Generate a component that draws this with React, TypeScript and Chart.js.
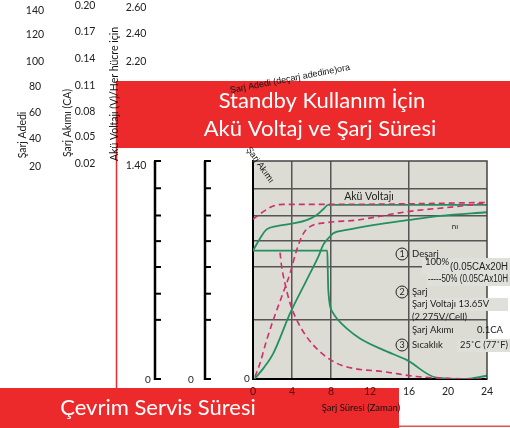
import React, { useEffect, useRef } from 'react';
import { Chart, registerables } from 'chart.js';
Chart.register(...registerables);

// ---- data ----
const timeTicks = [0, 4, 8, 12, 16, 20, 24];
const countTicks = ['140', '120', '100', '80', '60', '40', '20'];
const currentTicks = ['0.20', '0.17', '0.14', '0.11', '0.08', '0.05', '0.02'];
const voltTicks = ['2.60', '2.40', '2.20'];
const voltLowTick = '1.40';

// green solid: battery voltage (100%)
const greenVoltX = [0, 0.72, 1.4, 2.43, 4.13, 5.5, 6.53, 7.2, 7.72, 12, 16, 20, 24];
const greenVoltY = [4.71, 5.16, 5.49, 5.61, 5.71, 5.83, 6.02, 6.23, 6.39, 6.39, 6.39, 6.39, 6.39];
// green solid: charged amount (100%)
const greenChargeX = [0.15, 1.06, 2.08, 3.8, 5.5, 6.7, 7.2, 7.72, 8.24, 9.6, 12.3, 15.8, 19.2, 24];
const greenChargeY = [0.0, 0.39, 0.94, 2.41, 3.63, 4.49, 4.92, 5.16, 5.35, 5.47, 5.65, 5.83, 5.99, 6.12];
// green solid: charge current (100%)
const greenCurrentX = [0, 7.62, 7.67, 7.72, 8.24, 8.58, 9.6, 10.97, 13.4, 15.76, 18.8, 21.6, 24];
const greenCurrentY = [4.71, 4.71, 4.0, 3.27, 2.41, 2.23, 1.86, 1.49, 1.06, 0.7, 0.05, 0.0, 0.12];
// pink dashed: battery voltage (50%)
const pinkVoltX = [0, 1.06, 2.08, 3.1, 7.72, 16, 24];
const pinkVoltY = [5.86, 6.14, 6.35, 6.41, 6.41, 6.43, 6.48];
// pink dashed: charged amount (50%)
const pinkChargeX = [0.2, 0.72, 1.4, 2.08, 2.94, 3.8, 4.48, 5.1, 5.85, 7.56, 10.6, 15.8, 20.9, 24];
const pinkChargeY = [0.08, 0.58, 1.43, 2.17, 3.02, 3.88, 4.73, 5.3, 5.59, 5.74, 5.83, 6.14, 6.33, 6.46];
// pink dashed: charge current (50%)
const pinkCurrentX = [2.77, 2.94, 3.28, 3.8, 4.48, 5.5, 6.87, 8.58, 10.3, 13.4, 16.8, 20.2, 24];
const pinkCurrentY = [4.64, 4.12, 3.51, 2.78, 2.17, 1.55, 1.0, 0.58, 0.39, 0.27, 0.09, 0.02, 0.0];

const gridY = [2.17, 4.11, 5.06, 6.0, 7.0];
const bracketY = [0, 2.17, 3.13, 4.11, 5.06, 6.0, 7.0, 8.0];
const gridX = [4, 8, 16];

const FONT = 'Lato, "Noto Sans", sans-serif';
const NARROW = '"Liberation Sans Narrow", "Liberation Sans", sans-serif';
const RED = '#ec2a2b';
const GREEN = '#23905f';
const PINK = '#cf2f6c';
const PLOT_BG = '#dcdcd5';
const BOX_BG = '#e0e0db';

const pts = (xs: number[], ys: number[]) => xs.map((x, i) => ({ x, y: ys[i] }));

function txt(ctx: CanvasRenderingContext2D, s: string, x: number, y: number, o: any = {}) {
  ctx.save();
  ctx.font = `${o.weight || 'normal'} ${o.size || 10}px ${o.font || FONT}`;
  ctx.fillStyle = o.color || '#222';
  ctx.textAlign = o.align || 'left';
  ctx.textBaseline = 'middle';
  ctx.translate(x, y);
  if (o.rot) ctx.rotate((o.rot * Math.PI) / 180);
  if (o.maxWidth) ctx.fillText(s, 0, 0, o.maxWidth);
  else ctx.fillText(s, 0, 0);
  ctx.restore();
}

const decor = {
  id: 'decor',
  beforeDraw(chart: any) {
    const ctx = chart.ctx as CanvasRenderingContext2D;
    const a = chart.chartArea;
    ctx.save();
    ctx.fillStyle = RED;
    ctx.fillRect(117, 81, 393, 67);
    ctx.fillRect(0, 388, 399, 40);
    ctx.fillStyle = '#e85050';
    ctx.fillRect(399, 425.5, 111, 1.5);
    ctx.strokeStyle = RED;
    ctx.lineWidth = 1.5;
    ctx.beginPath();
    ctx.moveTo(116.5, 81);
    ctx.lineTo(116.5, 388);
    ctx.stroke();
    ctx.fillStyle = PLOT_BG;
    ctx.fillRect(a.left, a.top, a.right - a.left, a.bottom - a.top);
    ctx.restore();
  },
  afterDraw(chart: any) {
    const ctx = chart.ctx as CanvasRenderingContext2D;
    const a = chart.chartArea;
    const ys = chart.scales.y;
    // plot frame top / right
    ctx.save();
    ctx.strokeStyle = '#444';
    ctx.lineWidth = 1.5;
    ctx.beginPath();
    ctx.moveTo(a.left, a.top);
    ctx.lineTo(a.right, a.top);
    ctx.lineTo(a.right, a.bottom);
    ctx.stroke();
    // brackets
    ctx.strokeStyle = '#000';
    [155, 205].forEach((bx) => {
      ctx.lineWidth = 2.5;
      ctx.beginPath();
      ctx.moveTo(bx, ys.getPixelForValue(8));
      ctx.lineTo(bx, ys.getPixelForValue(0) + 1);
      ctx.stroke();
      ctx.lineWidth = 2;
      bracketY.forEach((v) => {
        const py = ys.getPixelForValue(v);
        ctx.beginPath();
        ctx.moveTo(bx - 1, py);
        ctx.lineTo(bx + 6, py);
        ctx.stroke();
      });
    });
    ctx.restore();

    // annotation boxes
    ctx.save();
    ctx.fillStyle = BOX_BG;
    ctx.fillRect(422, 258, 88, 16);
    ctx.fillRect(427, 273, 83, 13);
    ctx.fillRect(410, 298, 98, 13);
    ctx.fillRect(457, 339, 53, 13);
    ctx.restore();

    // left tick labels
    const c1 = [11, 35, 62, 87, 113, 139, 167];
    countTicks.forEach((t, i) => txt(ctx, t, 35, c1[i], { align: 'center', size: 10.5 }));
    const c2 = [6, 32, 59, 86, 112, 137, 164];
    currentTicks.forEach((t, i) => txt(ctx, t, 85, c2[i], { align: 'center', size: 10.5 }));
    const c3 = [8, 34, 62];
    voltTicks.forEach((t, i) => txt(ctx, t, 136, c3[i], { align: 'center', size: 10.5 }));
    txt(ctx, voltLowTick, 136, 166, { align: 'center', size: 10.5 });
    txt(ctx, '0', 148, 380, { align: 'center', size: 10 });
    txt(ctx, '0', 191, 380, { align: 'center', size: 10 });
    txt(ctx, '0', 247, 379, { align: 'center', size: 10 });

    // rotated axis titles
    txt(ctx, 'Şarj Adedi', 23, 135, { align: 'center', rot: -90, size: 10.5 });
    txt(ctx, 'Şarj Akımı (CA)', 68, 123, { align: 'center', rot: -90, size: 10.5 });
    txt(ctx, 'Akü Voltajı (V)/Her hücre için', 115, 94, { align: 'center', rot: -90, size: 10.5, color: '#111', maxWidth: 134 });
    txt(ctx, 'Şarj Adedi (deçarj adedine)ora', 290, 79, { align: 'center', rot: -11, size: 9, font: NARROW, color: '#111' });
    txt(ctx, 'Şarj Akımı', 260, 165, { align: 'center', rot: 55, size: 9, font: NARROW, color: '#111' });

    // plot annotations
    txt(ctx, 'Akü Voltajı', 369, 197, { align: 'center', size: 10.5 });
    txt(ctx, 'nı', 455, 226, { align: 'center', size: 8 });
    ctx.save();
    ctx.strokeStyle = '#222';
    ctx.lineWidth = 1;
    [[402, 254, '1'], [402, 292, '2'], [402, 345, '3']].forEach(([cx, cy, n]: any) => {
      ctx.beginPath();
      ctx.arc(cx, cy, 6, 0, Math.PI * 2);
      ctx.stroke();
      txt(ctx, n, cx, cy + 0.5, { align: 'center', size: 9 });
    });
    ctx.restore();
    const s = 9.5;
    txt(ctx, 'Deşarj', 412, 254, { size: s });
    txt(ctx, '100%', 425, 262, { size: s });
    txt(ctx, '(0.05CAx20H', 450, 267, { size: 10, font: NARROW, maxWidth: 58 });
    txt(ctx, '-----50% (0.05CAx10H', 428, 279, { size: 10, font: NARROW, maxWidth: 80 });
    txt(ctx, 'Şarj', 412, 292, { size: s });
    txt(ctx, 'Şarj Voltajı 13.65V', 412, 304, { size: s });
    txt(ctx, '(2.275V/Cell)', 412, 317, { size: s });
    txt(ctx, 'Şarj Akımı', 412, 330, { size: s });
    txt(ctx, '0.1CA', 477, 330, { size: s });
    txt(ctx, 'Sıcaklık', 412, 345, { size: s });
    txt(ctx, '25˚C (77˚F)', 460, 345, { size: s, maxWidth: 48 });

    // x title & banners
    txt(ctx, 'Şarj Süresi (Zaman)', 361, 408, { align: 'center', size: 9.5, color: '#111' });
    txt(ctx, 'Standby Kullanım İçin', 322, 101, { align: 'center', size: 22, color: '#fff' });
    txt(ctx, 'Akü Voltaj ve Şarj Süresi', 320, 129, { align: 'center', size: 22, color: '#fff' });
    txt(ctx, 'Çevrim Servis Süresi', 158, 408, { align: 'center', size: 22, color: '#fff' });
  },
};

const mk = (xs: number[], ys: number[], color: string, dashed: boolean) => ({
  data: pts(xs, ys),
  showLine: true,
  borderColor: color,
  backgroundColor: color,
  borderWidth: dashed ? 1.6 : 1.8,
  borderDash: dashed ? [6, 4] : [],
  pointRadius: 0,
  cubicInterpolationMode: 'monotone' as const,
  fill: false,
});

export default function App() {
  const ref = useRef<HTMLCanvasElement>(null);
  useEffect(() => {
    document.body.style.margin = '0';
    const chart = new Chart(ref.current!, {
      type: 'scatter',
      data: {
        datasets: [
          mk(pinkVoltX, pinkVoltY, PINK, true),
          mk(pinkChargeX, pinkChargeY, PINK, true),
          mk(pinkCurrentX, pinkCurrentY, PINK, true),
          mk(greenVoltX, greenVoltY, GREEN, false),
          mk(greenChargeX, greenChargeY, GREEN, false),
          mk(greenCurrentX, greenCurrentY, GREEN, false),
        ] as any,
      },
      options: {
        responsive: false,
        animation: false,
        devicePixelRatio: 1,
        layout: { padding: { left: 253, right: 23, top: 161, bottom: 29 } },
        plugins: { legend: { display: false }, tooltip: { enabled: false } },
        scales: {
          x: {
            type: 'linear',
            min: 0,
            max: 24,
            afterBuildTicks: (sc: any) => {
              sc.ticks = timeTicks.map((v) => ({ value: v }));
            },
            afterFit: (sc: any) => {
              sc.height = 20;
            },
            ticks: {
              padding: 6,
              font: { size: 10.5, family: FONT },
              color: (c: any) => (c.tick && c.tick.value <= 12 ? '#5a0c0c' : '#222'),
            },
            grid: {
              drawTicks: false,
              lineWidth: 1.5,
              color: (c: any) => (c.tick && gridX.includes(c.tick.value) ? '#555' : 'rgba(0,0,0,0)'),
            },
            border: { display: true, color: '#000', width: 2 },
          },
          y: {
            type: 'linear',
            min: 0,
            max: 8,
            afterBuildTicks: (sc: any) => {
              sc.ticks = gridY.map((v) => ({ value: v }));
            },
            afterFit: (sc: any) => {
              sc.width = 0;
            },
            ticks: { display: false },
            grid: { drawTicks: false, lineWidth: 1.5, color: '#555' },
            border: { display: true, color: '#000', width: 2 },
          },
        },
      },
      plugins: [decor],
    });
    return () => chart.destroy();
  }, []);
  return (
    <div style={{ width: 510, height: 428, position: 'relative' }}>
      <canvas ref={ref} width={510} height={428} style={{ display: 'block' }} />
    </div>
  );
}
